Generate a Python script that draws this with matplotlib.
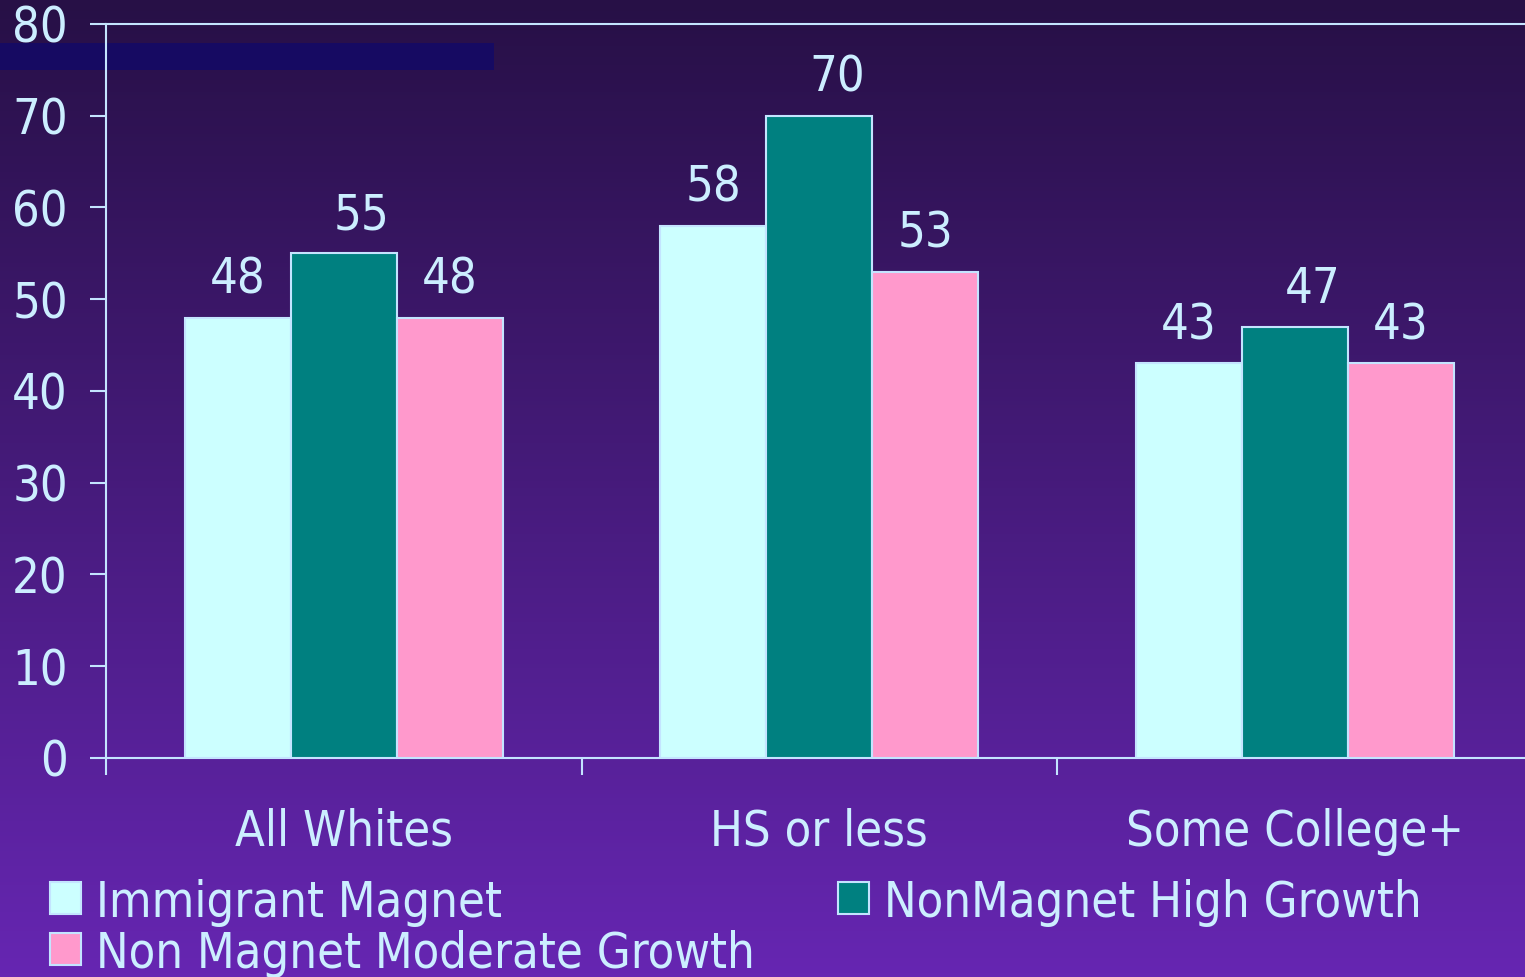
import numpy as np
import matplotlib.pyplot as plt
from matplotlib.patches import Rectangle

categories = ["All Whites", "HS or less", "Some College+"]
series_names = ["Immigrant Magnet", "NonMagnet High Growth", "Non Magnet Moderate Growth"]
immigrant_magnet = [48, 58, 43]
nonmagnet_high = [55, 70, 47]
nonmagnet_moderate = [48, 53, 43]
series_colors = ["#CCFFFF", "#008080", "#FF99CC"]

text_color = "#CCEEFF"
line_color = "#C4E4FF"

plt.rcParams["font.family"] = ["DejaVu Sans"]
plt.rcParams["font.stretch"] = "condensed"
fs = 35

fig = plt.figure(figsize=(15.25, 9.77), dpi=100)

# gradient background like the slide
bg = fig.add_axes([0, 0, 1, 1], zorder=-10)
grad = np.linspace(0, 1, 256).reshape(-1, 1)
top = np.array([0x27, 0x10, 0x46]) / 255
bottom = np.array([0x66, 0x26, 0xB2]) / 255
img = top + (bottom - top) * grad[:, :, None]
bg.imshow(img, aspect="auto", extent=[0, 1, 0, 1], origin="upper")
bg.set_axis_off()

# dark strip top left
fig.patches.append(Rectangle((0, 0.9284), 0.324, 0.0276, transform=fig.transFigure,
                             facecolor="#160A62", edgecolor="none", zorder=-5))

ax = fig.add_axes([0.0695, 0.2242, 0.9305, 0.7513])
ax.patch.set_alpha(0)

x = np.arange(len(categories))
w = 0.223
label_shift = [0, 13, 0]  # middle series labels sit a bit right on the slide
all_series = [immigrant_magnet, nonmagnet_high, nonmagnet_moderate]
for i, vals in enumerate(all_series):
    bars = ax.bar(x + (i - 1) * w, vals, w, color=series_colors[i],
                  edgecolor=line_color, linewidth=1.5, label=series_names[i], zorder=3)
    for b, v in zip(bars, vals):
        ax.annotate(str(v), (b.get_x() + b.get_width() / 2, v), xytext=(label_shift[i], 10),
                    textcoords="offset points", ha="center", va="bottom",
                    fontsize=fs, color=text_color)

ax.set_xlim(-0.5, 2.484)
ax.set_ylim(0, 80)
ax.set_yticks(np.arange(0, 81, 10))
ax.tick_params(axis="y", colors=line_color, labelcolor=text_color, labelsize=fs,
               length=11.5, width=1.5, pad=16)

ax.set_xticks([-0.5, 0.5, 1.5])
ax.set_xticklabels([])
ax.tick_params(axis="x", which="major", colors=line_color, length=12, width=1.5,
               direction="out")
ax.set_xticks(x, minor=True)
ax.set_xticklabels(categories, minor=True)
ax.tick_params(axis="x", which="minor", length=0, labelsize=fs, labelcolor=text_color, pad=36)

for side in ["left", "bottom", "top"]:
    ax.spines[side].set_color(line_color)
    ax.spines[side].set_linewidth(1.5)
ax.spines["right"].set_visible(False)

# legend drawn by hand to match slide layout (pixel positions of marker, text baseline)
legend_pos = [(50, 917), (838, 917), (50, 968)]
for (px, py), name, col in zip(legend_pos, series_names, series_colors):
    fx = px / 1525
    fy = 1 - py / 977
    fig.patches.append(Rectangle((fx, fy + 3 / 977), 31 / 1525, 32 / 977,
                                 transform=fig.transFigure, facecolor=col,
                                 edgecolor=line_color, linewidth=1.5))
    fig.text(fx + 46 / 1525, fy, name, fontsize=fs, color=text_color,
             va="baseline", ha="left")

fig.savefig("out.png", dpi=100)
